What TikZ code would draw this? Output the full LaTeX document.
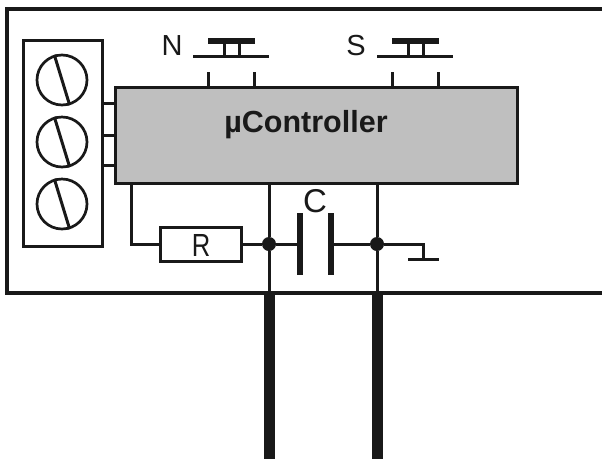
\documentclass[tikz,border=0pt]{standalone}
\usepackage{fontspec}
\setmainfont{Liberation Sans}
\usetikzlibrary{calc}
\definecolor{wirecol}{gray}{0.1}
\definecolor{chipgray}{gray}{0.75}
\tikzset{
	wire/.style={draw=wirecol, line width=3pt},
	box/.style={draw=wirecol, line width=3pt, rectangle, inner sep=0pt},
	screw/.style={draw=wirecol, line width=2.7pt, circle, inner sep=0pt, minimum size=50pt},
	dotnode/.style={fill=wirecol, circle, inner sep=0pt, minimum size=14pt},
	cable/.style={draw=wirecol, line width=11pt},
	plate/.style={draw=wirecol, line width=5.5pt},
	bar/.style={draw=wirecol, line width=6pt},
	lbl/.style={text=wirecol, inner sep=0pt, font=\fontsize{29}{29}\selectfont}
}
\begin{document}
\begin{tikzpicture}[x=1pt, y=-1pt]
	%%%%% START %%%%%
	\useasboundingbox (0, 0) rectangle (602, 459);
	\fill[white] (0, 0) rectangle (602, 459);

	% housing
	\coordinate (houseTR) at (602, 9);
	\coordinate (houseTL) at (7, 9);
	\coordinate (houseBL) at (7, 293);
	\coordinate (houseBR) at (602, 293);
	\draw[draw=wirecol, line width=3.2pt] (houseTR) -- (houseTL) -- (houseBL) -- (houseBR);

	% terminal block
	\node[box, minimum width=79pt, minimum height=206pt] (terminal) at (62.5, 143) {};
	\foreach \i/\y in {1/80, 2/142, 3/204} {
		\node[screw] (screw\i) at (62, \y) {};
		\draw[wire] (screw\i.107) -- (screw\i.287);
	}

	% controller
	\node[box, fill=chipgray, minimum width=402pt, minimum height=96pt] (ctrl) at (316, 135) {};
	\node[text=wirecol, inner sep=0pt, font=\fontsize{30.5}{30.5}\selectfont\bfseries] (ctrlname) at (306, 125) {µController};
	\foreach \i/\y in {1/103, 2/135, 3/165} {
		\coordinate (stubL\i) at (102.5, \y);
		\coordinate (stubR\i) at (115, \y);
		\draw[wire] (stubL\i) -- (stubR\i);
	}

	% push buttons
	\foreach \name/\txt/\x in {north/N/208, south/S/392} {
		\node[lbl] (label\name) at ({\x-36}, 46) {\txt};
		\coordinate (\name A) at (\x, 72);
		\coordinate (\name B) at ({\x+46}, 72);
		\draw[wire] (\name A) -- (\name A |- ctrl.north);
		\draw[wire] (\name B) -- (\name B |- ctrl.north);
		\coordinate (\name C) at ({\x-15}, 56.5);
		\coordinate (\name D) at ({\x+61}, 56.5);
		\draw[draw=wirecol, line width=3pt] (\name C) -- (\name D);
		\coordinate (\name E) at (\x, 41);
		\coordinate (\name F) at ({\x+46.5}, 41);
		\draw[bar] (\name E) -- (\name F);
		\draw[wire] ({\x+16}, 41) -- ({\x+16}, 56);
		\draw[wire] ({\x+31}, 41) -- ({\x+31}, 56);
	}

	% resistor and capacitor
	\node[box, minimum width=81pt, minimum height=34pt] (res) at (200.5, 244) {};
	\node[lbl, font=\fontsize{32}{32}\selectfont, xscale=0.8] (reslabel) at (201, 245) {R};
	\node[dotnode] (dotA) at (269, 244) {};
	\node[dotnode] (dotB) at (377, 244) {};
	\coordinate (capA) at (300, 244);
	\coordinate (capB) at (331, 244);
	\draw[plate] (300, 213) -- (300, 275);
	\draw[plate] (331, 213) -- (331, 275);
	\node[lbl, font=\fontsize{33}{33}\selectfont] (caplabel) at (315, 201) {C};

	\coordinate (resturn) at (131, 244);
	\draw[wire] (ctrl.south -| resturn) -- (resturn) -- (res.west);
	\draw[wire] (res.east) -- (dotA) -- (capA);
	\draw[wire] (capB) -- (dotB);

	% ground
	\coordinate (gndcorner) at (423, 244);
	\coordinate (gndfoot) at (423, 259);
	\coordinate (gndL) at (408, 259);
	\coordinate (gndR) at (439, 259);
	\draw[wire] (dotB) -- (gndcorner) -- (gndfoot);
	\draw[draw=wirecol, line width=3pt] (gndL) -- (gndR);

	% leads and cables
	\coordinate (leadA) at (269, 293);
	\coordinate (leadB) at (377, 293);
	\coordinate (endA) at (269, 459);
	\coordinate (endB) at (377, 459);
	\draw[wire] (ctrl.south -| dotA) -- (dotA) -- (leadA);
	\draw[wire] (ctrl.south -| dotB) -- (dotB) -- (leadB);
	\draw[cable] (leadA) -- (endA);
	\draw[cable] (leadB) -- (endB);
	%%%%% END %%%%%
\end{tikzpicture}
\end{document}
